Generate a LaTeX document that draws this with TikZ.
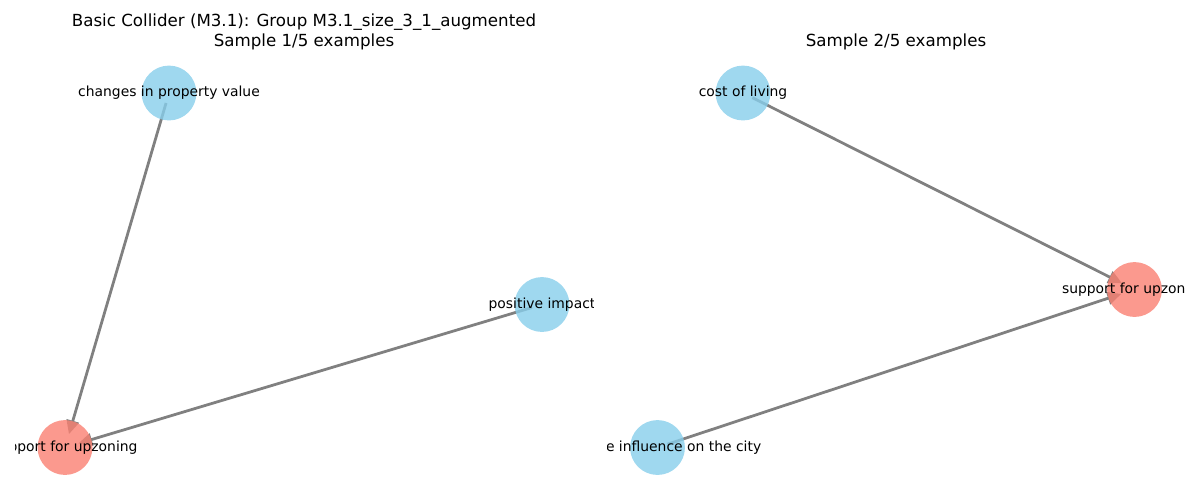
\documentclass[tikz,border=0pt]{standalone}
\usepackage{fontspec}
\setmainfont{DejaVu Sans}
\usetikzlibrary{arrows.meta, backgrounds}
\definecolor{skyblue}{RGB}{135,206,235}
\definecolor{salmon}{RGB}{250,128,114}
\definecolor{edgegray}{RGB}{128,128,128}

\begin{document}
\begin{tikzpicture}[x=0.72pt, y=-0.72pt]

\tikzset{vertex/.style = {shape=circle, fill=skyblue, fill opacity=0.8, minimum size=39.5pt, inner sep=0pt}}
\tikzset{collider/.style = {vertex, fill=salmon}}
\tikzset{vlabel/.style = {text opacity=1, fill opacity=1, inner sep=0pt, font=\fontsize{10}{12}\selectfont}}
\tikzset{edge/.style = {-{Triangle[length=10pt, width=9pt]}, draw=edgegray, line width=2pt, shorten <=7.5pt, shorten >=10pt}}
\tikzset{heading/.style = {align=center, font=\fontsize{12}{14.4}\selectfont}}

\useasboundingbox (0,0) rectangle (1200,500);

%titles
\node[heading] (t1) at (304,31.5) {Basic Collider (M3.1): Group M3.1\_size\_3\_1\_augmented\\Sample 1/5 examples};
\node[heading] (t2) at (896,42) {Sample 2/5 examples};

%verticies, sample 1
\begin{scope}
\clip (15,0) rectangle (593,500);
\node[vertex, label={[vlabel]center:changes in property value}] (1) at (169,93) {};
\node[vertex, label={[vlabel]center:positive impact}] (2) at (542,304.5) {};
\node[collider, label={[vlabel]center:support for upzoning}] (3) at (65,447.5) {};
\end{scope}

%verticies, sample 2
\begin{scope}
\clip (607,0) rectangle (1185,500);
\node[vertex, label={[vlabel]center:cost of living}] (4) at (743,93) {};
\node[collider, label={[vlabel]center:support for upzoning}] (5) at (1134.5,289.5) {};
\node[vertex, label={[vlabel]center:negative influence on the city}] (6) at (657.5,447.5) {};
\end{scope}

%edges
\begin{scope}[on background layer]
\path (1.center) edge[edge] (3.center);
\path (2.center) edge[edge] (3.center);
\path (4.center) edge[edge] (5.center);
\path (6.center) edge[edge] (5.center);
\end{scope}

\end{tikzpicture}
\end{document}
